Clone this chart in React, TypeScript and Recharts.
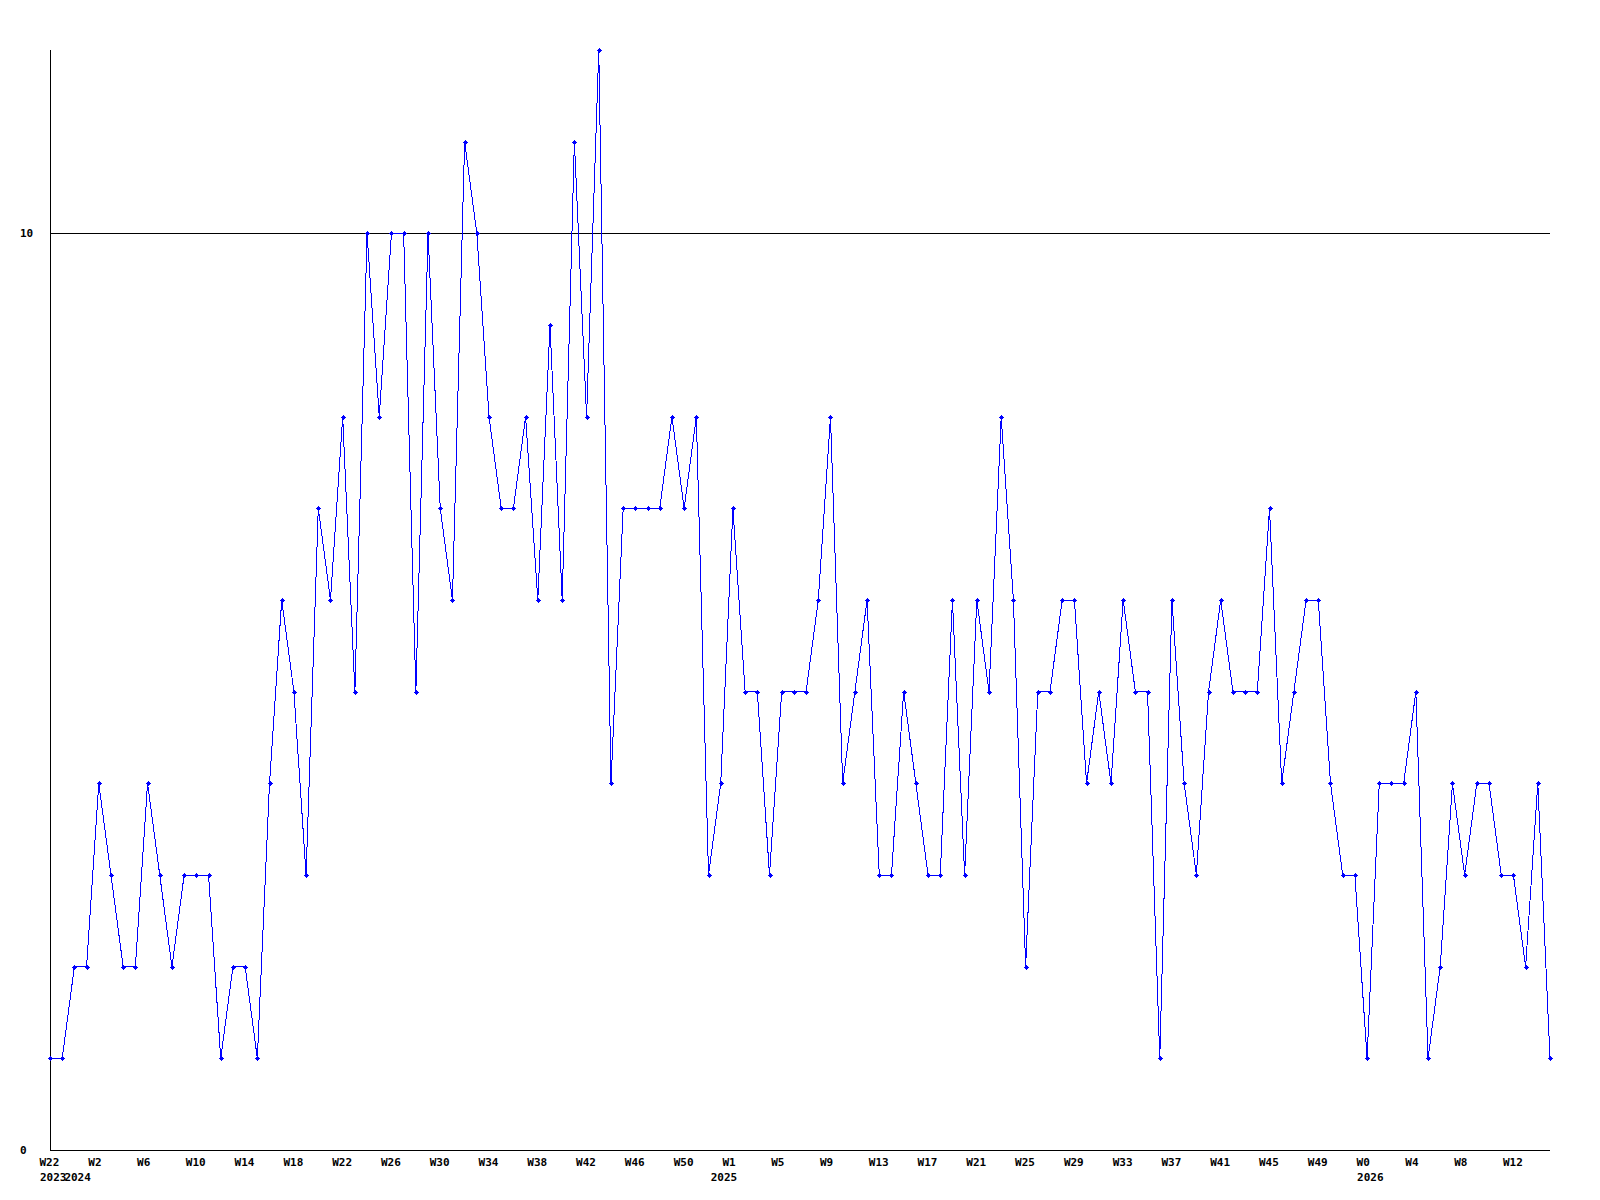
import React from 'react';
import { LineChart, Line, XAxis, YAxis, ReferenceLine } from 'recharts';

// weekly counts, one per week
const values = [
  1, 1, 2, 2, 4, 3, 2, 2, 4, 3,
  2, 3, 3, 3, 1, 2, 2, 1, 4, 6,
  5, 3, 7, 6, 8, 5, 10, 8, 10, 10,
  5, 10, 7, 6, 11, 10, 8, 7, 7, 8,
  6, 9, 6, 11, 8, 12, 4, 7, 7, 7,
  7, 8, 7, 8, 3, 4, 7, 5, 5, 3,
  5, 5, 5, 6, 8, 4, 5, 6, 3, 3,
  5, 4, 3, 3, 6, 3, 6, 5, 8, 6,
  2, 5, 5, 6, 6, 4, 5, 4, 6, 5,
  5, 1, 6, 4, 3, 5, 6, 5, 5, 5,
  7, 4, 5, 6, 6, 4, 3, 3, 1, 4,
  4, 4, 5, 1, 2, 4, 3, 4, 4, 3,
  3, 2, 4, 1,
];

// week labels, one every 4th point
const weekLabels = [
  'W22', 'W2', 'W6', 'W10', 'W14', 'W18', 'W22', 'W26', 'W30', 'W34', 'W38',
  'W42', 'W46', 'W50', 'W1', 'W5', 'W9', 'W13', 'W17', 'W21', 'W25', 'W29',
  'W33', 'W37', 'W41', 'W45', 'W49', 'W0', 'W4', 'W8', 'W12',
];
const weekStep = 4;

const yearLabels = ['2023', '2024', '2025', '2026'];
const yearStarts = [0, 2, 55, 108];

const yTicks = [0, 10];

const data = values.map((v, i) => ({ i, v }));
const xTicks = Array.from(
  new Set([...weekLabels.map((_, k) => k * weekStep), ...yearStarts])
).sort((a, b) => a - b);

const FONT = '"DejaVu Sans Mono", monospace';

const XTick = (props: any) => {
  const { x, y, payload } = props;
  const idx = payload.value;
  const week = idx % weekStep === 0 ? weekLabels[idx / weekStep] : null;
  const yearPos = yearStarts.indexOf(idx);
  return (
    <g>
      {week && (
        <text x={x - 10.5} y={y + 16} fontFamily={FONT} fontWeight="bold" fontSize={11} fill="#000" textAnchor="start">
          {week}
        </text>
      )}
      {yearPos >= 0 && (
        <text x={x - 10} y={y + 31} fontFamily={FONT} fontWeight="bold" fontSize={11} fill="#000" textAnchor="start">
          {yearLabels[yearPos]}
        </text>
      )}
    </g>
  );
};

const YTick = (props: any) => {
  const { y, payload } = props;
  return (
    <text x={20} y={y + 4} fontFamily={FONT} fontWeight="bold" fontSize={11} fill="#000" textAnchor="start">
      {payload.value}
    </text>
  );
};

const Marker = (props: any) => {
  const { cx, cy, index } = props;
  if (cx == null || cy == null) return null;
  const x = Math.round(cx);
  const y = Math.round(cy);
  return (
    <g key={index} fill="#0000ff" shapeRendering="crispEdges">
      <rect x={x - 2} y={y - 0.5} width={5} height={1} />
      <rect x={x - 0.5} y={y - 2} width={1} height={5} />
      <rect x={x - 1} y={y - 1} width={3} height={3} />
    </g>
  );
};

export default function App() {
  return (
    <div style={{ position: 'absolute', left: 0, top: 0, width: 1600, height: 1200, background: '#fff' }}>
      <LineChart width={1600} height={1200} data={data} margin={{ top: 50, right: 50, bottom: 0, left: 0 }}>
        <XAxis
          dataKey="i"
          type="number"
          domain={[0, values.length - 1]}
          ticks={xTicks}
          interval={0}
          tick={<XTick />}
          tickLine={false}
          tickSize={0}
          tickMargin={0}
          height={50}
          stroke="#000"
          shapeRendering="crispEdges"
        />
        <YAxis
          domain={[0, 12]}
          ticks={yTicks}
          interval={0}
          tick={<YTick />}
          tickLine={false}
          width={50}
          stroke="#000"
          shapeRendering="crispEdges"
        />
        <ReferenceLine y={10} stroke="#000" strokeWidth={1} shapeRendering="crispEdges" />
        <Line
          type="linear"
          dataKey="v"
          stroke="#0000ff"
          strokeWidth={1}
          dot={<Marker />}
          activeDot={false}
          isAnimationActive={false}
          shapeRendering="crispEdges"
        />
      </LineChart>
    </div>
  );
}
